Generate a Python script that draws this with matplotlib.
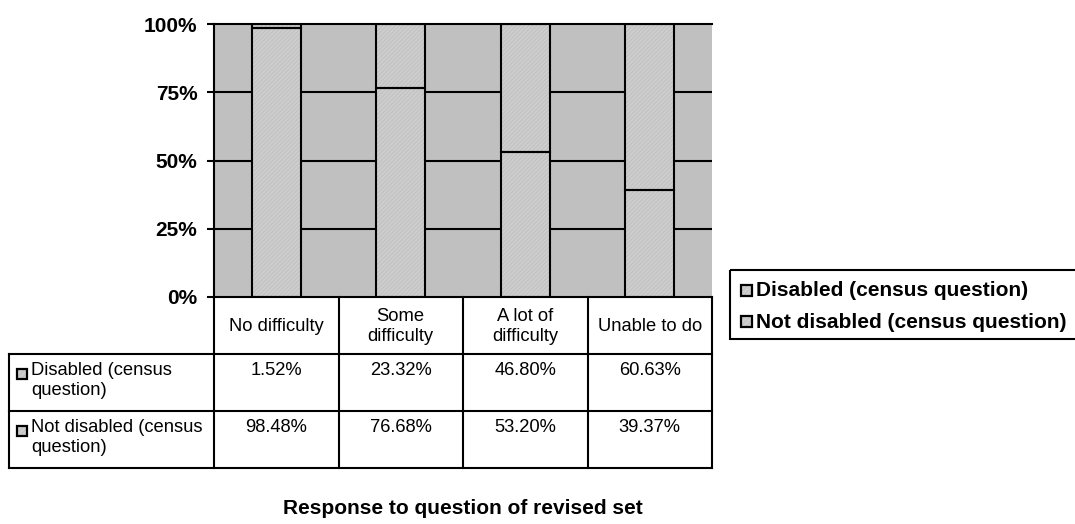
import matplotlib
matplotlib.use("Agg")
import matplotlib.pyplot as plt
from matplotlib.patches import Rectangle

plt.rcParams['font.family'] = ['Liberation Sans', 'DejaVu Sans']
plt.rcParams['hatch.linewidth'] = 0.4

# Data
categories = ["No difficulty", "Some\ndifficulty", "A lot of\ndifficulty", "Unable to do"]
series_labels = ["Disabled (census question)", "Not disabled (census question)"]
table_row_labels = ["Disabled (census\nquestion)", "Not disabled (census\nquestion)"]
disabled = [1.52, 23.32, 46.80, 60.63]
not_disabled = [98.48, 76.68, 53.20, 39.37]
y_ticks = [0, 25, 50, 75, 100]
x_title = "Response to question of revised set"

W, H = 1075, 524
fig = plt.figure(figsize=(W / 100, H / 100), dpi=100)

# plot area in pixels
PL, PR, PT, PB = 214, 712, 24, 297
ax = fig.add_axes([PL / W, 1 - PB / H, (PR - PL) / W, (PB - PT) / H])
ax.set_facecolor('#C0C0C0')

BAR_FACE = '#CDCDCD'
HATCH_COL = '#B9B9B9'
LW = 1.5

x = list(range(len(categories)))
ax.set_xlim(-0.5, len(categories) - 0.5)
ax.set_ylim(0, 100)
for g in y_ticks[1:-1]:
    ax.axhline(g, color='black', lw=LW, zorder=1)

bw = 0.39
for bottom, vals in ((None, not_disabled), (not_disabled, disabled)):
    ax.bar(x, vals, bw, bottom=bottom, color=BAR_FACE, edgecolor=HATCH_COL,
           hatch='////////', linewidth=0, zorder=2)
    ax.bar(x, vals, bw, bottom=bottom, fill=False, edgecolor='black',
           linewidth=LW, zorder=3)

ax.set_xticks([])
ax.set_yticks(y_ticks)
ax.set_yticklabels([f"{t}%" for t in y_ticks], fontsize=15, fontweight='bold')
ax.tick_params(axis='y', length=5, width=LW, pad=7, direction='out')
ax.spines['right'].set_visible(False)
for s in ('left', 'top', 'bottom'):
    ax.spines[s].set_linewidth(LW)

# Overlay in pixel coordinates for the data table, legend and title
ov = fig.add_axes([0, 0, 1, 1])
ov.set_xlim(0, W)
ov.set_ylim(H, 0)
ov.axis('off')

n = len(categories)
col_w = (PR - PL) / n
cols = [PL + col_w * k for k in range(n + 1)]
TL = 9
rows = [PB, 354, 411, 468]
lkw = dict(color='black', lw=LW, solid_capstyle='projecting')

for cx in cols:
    ov.plot([cx, cx], [PB, rows[-1]], **lkw)
ov.plot([TL, TL], [rows[1], rows[-1]], **lkw)
for ry in rows[1:]:
    ov.plot([TL, cols[-1]], [ry, ry], **lkw)

TFS = 13.2
for k, lab in enumerate(categories):
    ov.text((cols[k] + cols[k + 1]) / 2, (rows[0] + rows[1]) / 2 + 1, lab,
            ha='center', va='center', fontsize=TFS, linespacing=1.22)


def swatch(cx, cy, size):
    ov.add_patch(Rectangle((cx - size / 2, cy - size / 2), size, size,
                           facecolor=BAR_FACE, edgecolor=HATCH_COL,
                           hatch='//////', linewidth=0, zorder=4))
    ov.add_patch(Rectangle((cx - size / 2, cy - size / 2), size, size,
                           fill=False, edgecolor='black', linewidth=1.6, zorder=5))


for r, (lab, vals) in enumerate(zip(table_row_labels, (disabled, not_disabled))):
    top = rows[r + 1]
    swatch(21.5, top + 20, 10)
    ov.text(31, top + 8, lab, ha='left', va='top', fontsize=TFS, linespacing=1.22)
    for k, v in enumerate(vals):
        ov.text((cols[k] + cols[k + 1]) / 2, top + 8, f"{v:.2f}%",
                ha='center', va='top', fontsize=TFS)

# legend
ov.add_patch(Rectangle((730, 270), 400, 69, fill=False, edgecolor='black',
                       linewidth=LW, clip_on=False))
for i, lab in enumerate(series_labels):
    cy = 290 + i * 31
    swatch(746, cy, 11)
    ov.text(756, cy + 1, lab, ha='left', va='center', fontsize=15, fontweight='bold')

ov.text((PL + PR) / 2, 514, x_title, ha='center', va='baseline',
        fontsize=15, fontweight='bold')

fig.savefig('out.png', dpi=100)
